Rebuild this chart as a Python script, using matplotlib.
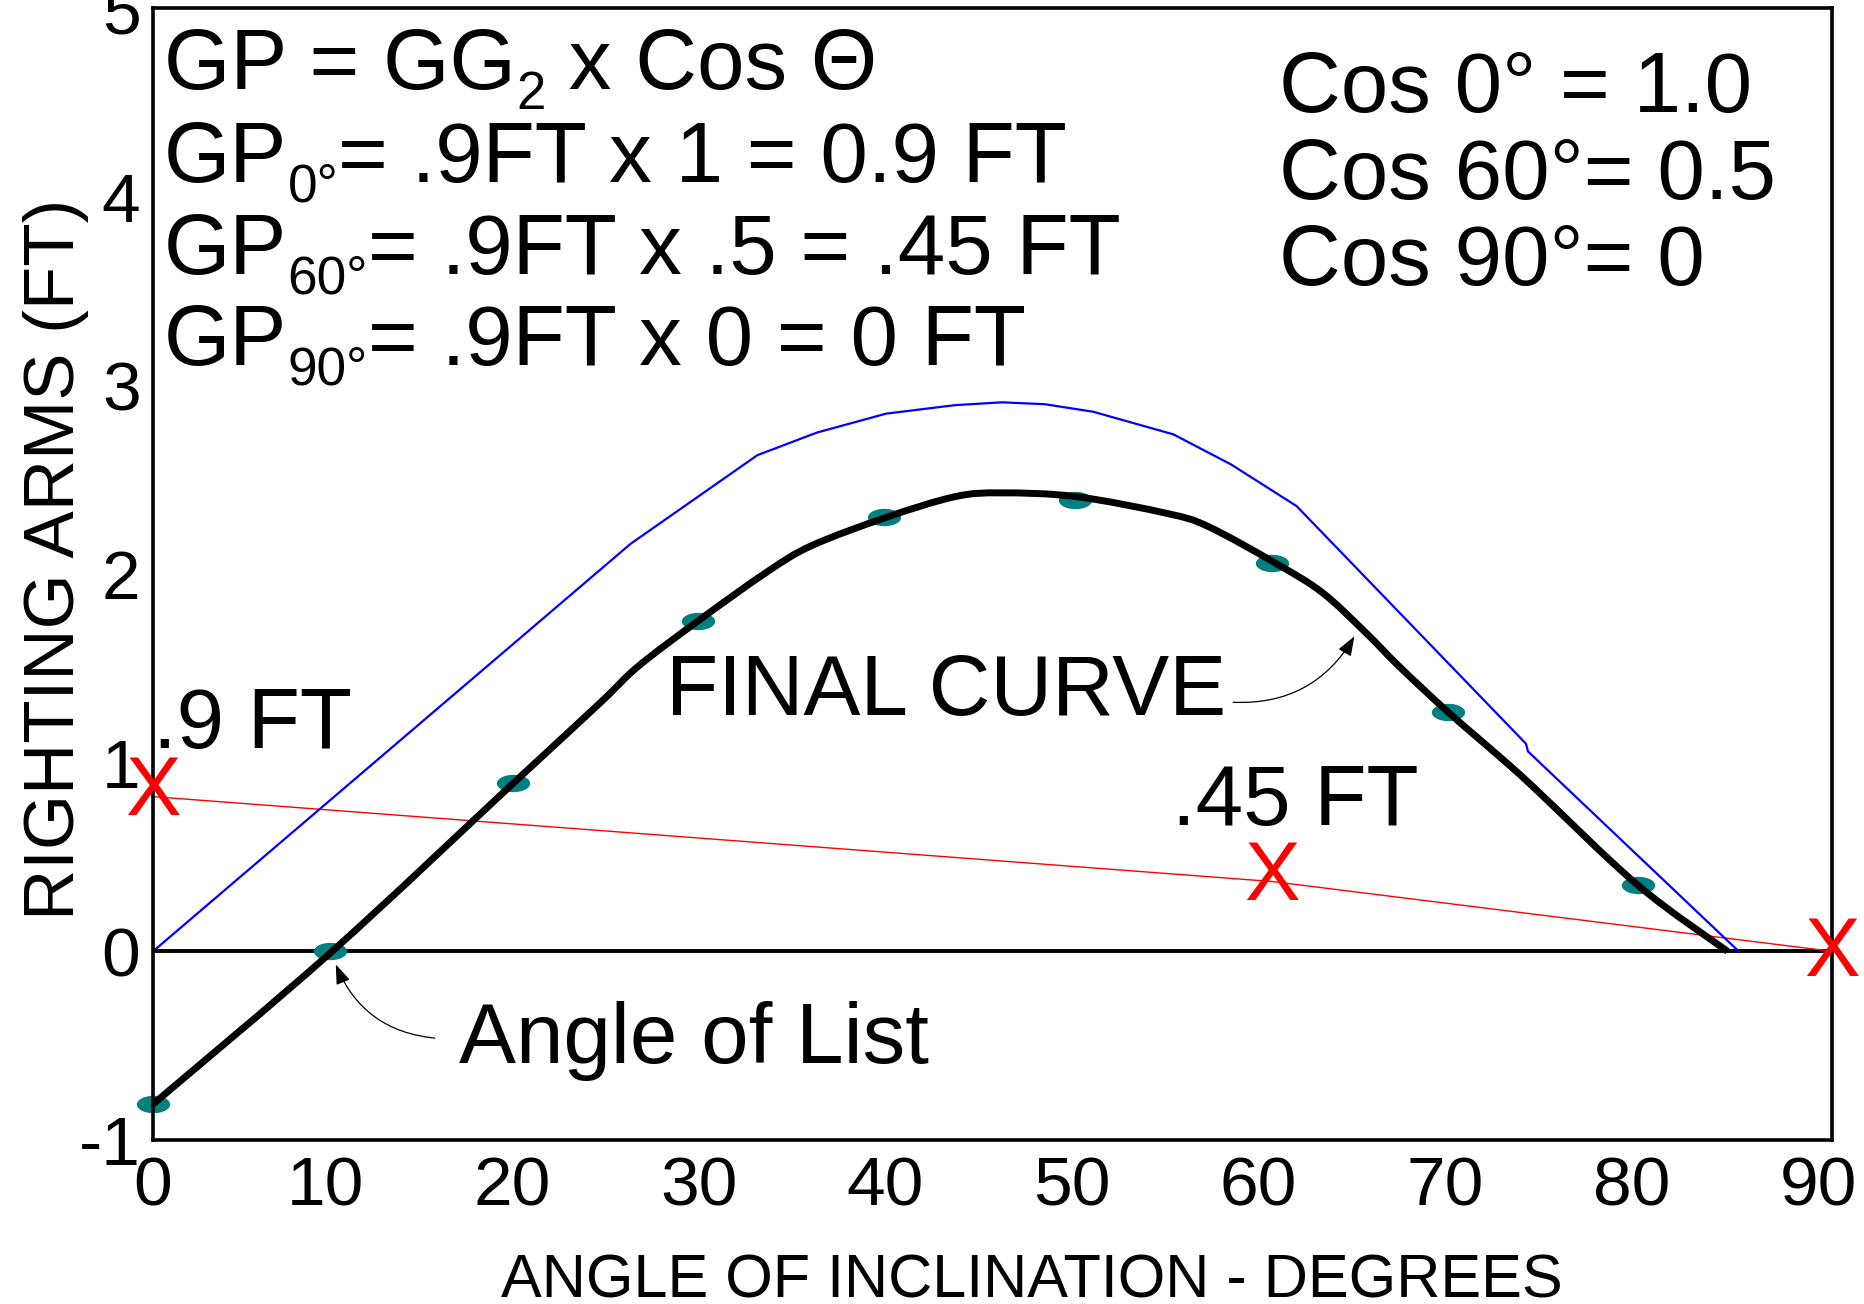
import numpy as np
import matplotlib
matplotlib.use('Agg')
import matplotlib.pyplot as plt
from matplotlib.path import Path
from matplotlib.patches import PathPatch
from matplotlib.transforms import ScaledTranslation

plt.rcParams['font.family'] = ['Liberation Sans', 'DejaVu Sans']

# ---------------- data ----------------
point_angles = [0, 9.5, 19.3, 29.2, 39.2, 49.4, 60.0, 69.4, 79.6]
point_arms = [-0.81, 0.0, 0.89, 1.75, 2.30, 2.39, 2.06, 1.27, 0.35]

final_angles = [0, 9.6, 19.3, 24.0, 26.0, 29.2, 32.9, 35.3, 39.3, 43.0, 45.5,
                49.5, 54.4, 56.6, 60.3, 62.7, 65.0, 66.8, 69.4, 72.2, 74.0,
                79.6, 84.4]
final_arms = [-0.81, 0.0, 0.89, 1.32, 1.51, 1.75, 2.01, 2.15, 2.30, 2.41, 2.43,
              2.41, 2.32, 2.25, 2.05, 1.90, 1.69, 1.51, 1.27, 1.03, 0.87,
              0.35, 0.0]

initial_angles = [0, 25.6, 32.4, 35.6, 39.3, 43.0, 45.5, 47.8, 50.4, 54.7, 57.8,
                  61.3, 73.6, 73.7, 85.0]
initial_arms = [0, 2.16, 2.63, 2.75, 2.85, 2.895, 2.91, 2.90, 2.86, 2.74, 2.58,
                2.36, 1.10, 1.06, 0.0]

gp_angles = [0, 60, 90]
gp_arms = [0.82, 0.37, 0.0]

x_mark_angles = [0, 60, 90]
x_mark_arms = [0.88, 0.43, 0.03]

x_ticks = [0, 10, 20, 30, 40, 50, 60, 70, 80, 90]
y_ticks = [-1, 0, 1, 2, 3, 4, 5]

# formula lines: (text, is_subscript) segments
formula_lines = [
    [('GP = GG', False), ('2', True), (' x Cos Θ', False)],
    [('GP', False), ('0°', True), ('= .9FT x 1 = 0.9 FT', False)],
    [('GP', False), ('60°', True), ('= .9FT x .5 = .45 FT', False)],
    [('GP', False), ('90°', True), ('= .9FT x 0 = 0 FT', False)],
]
formula_y = [4.57, 4.08, 3.59, 3.11]
cos_lines = ['Cos 0° = 1.0', 'Cos 60°= 0.5', 'Cos 90°= 0']
cos_y = [4.45, 3.99, 3.53]

# ---------------- figure ----------------
W, H = 1865, 1304
DPI = 100
fig = plt.figure(figsize=(W / DPI, H / DPI), dpi=DPI)
ax = fig.add_axes([153 / W, 1 - 1140 / H, (1832 - 153) / W, (1140 - 8) / H])
ax.set_xlim(0, 90)
ax.set_ylim(-1, 5)

for s in ax.spines.values():
    s.set_linewidth(2.6)
    s.set_color('black')

ax.axhline(0, color='black', lw=2.8, zorder=1)

ax.plot(gp_angles, gp_arms, color='#FF0000', lw=1.0, zorder=2)
ax.plot(initial_angles, initial_arms, color='#0000FF', lw=1.6, zorder=2)

theta = np.linspace(0, 2 * np.pi, 60)
ell = Path(np.column_stack([np.cos(theta), 0.52 * np.sin(theta)]), closed=True)
ax.plot(point_angles, point_arms, linestyle='none', marker=ell,
        markersize=24, color='#008080', markeredgewidth=0, zorder=2.5,
        clip_on=False)


def smooth_path(xs, ys):
    pts = np.column_stack([xs, ys]).astype(float)
    n = len(pts)
    verts = [pts[0]]
    codes = [Path.MOVETO]
    for i in range(n - 1):
        p0 = pts[i - 1] if i > 0 else pts[i]
        p1 = pts[i]
        p2 = pts[i + 1]
        p3 = pts[i + 2] if i + 2 < n else pts[i + 1]
        verts += [p1 + (p2 - p0) / 6.0, p2 - (p3 - p1) / 6.0, p2]
        codes += [Path.CURVE4] * 3
    return Path(verts, codes)


ax.add_patch(PathPatch(smooth_path(final_angles, final_arms), fill=False,
                       edgecolor='black', lw=5.0, zorder=3, joinstyle='round',
                       capstyle='butt'))

for xa, ya in zip(x_mark_angles, x_mark_arms):
    ax.annotate('X', xy=(xa, ya), xytext=(0, -0.358 * 60), textcoords='offset points',
                ha='center', va='baseline', color='#FF0000', fontsize=60,
                zorder=4, annotation_clip=False)

# ---------------- texts ----------------
renderer = fig.canvas.get_renderer()


def advance(s, size):
    t = fig.text(0, 0, '|' + s + '|', fontsize=size)
    w1 = t.get_window_extent(renderer).width
    t.set_text('||')
    w0 = t.get_window_extent(renderer).width
    t.remove()
    return w1 - w0


FS = 61.5
SUB_FS = FS * 0.62
SUB_DROP = 0.23 * FS

for segs, yy in zip(formula_lines, formula_y):
    cursor = 0.0
    for s, sub in segs:
        fs = SUB_FS if sub else FS
        dy = -SUB_DROP if sub else 0.0
        ax.annotate(s, xy=(0.6, yy), xytext=(cursor * 72.0 / DPI, dy),
                    textcoords='offset points', fontsize=fs, ha='left',
                    va='baseline', zorder=5)
        cursor += advance(s, fs)

for line, yy in zip(cos_lines, cos_y):
    ax.text(60.35, yy, line, fontsize=FS, ha='left', va='baseline', zorder=5)

ax.text(0.0, 1.08, '.9 FT', fontsize=FS, ha='left', va='baseline', zorder=5)
ax.text(54.6, 0.67, '.45 FT', fontsize=FS, ha='left', va='baseline', zorder=5)
ax.text(27.5, 1.25, 'FINAL CURVE', fontsize=FS, ha='left', va='baseline', zorder=5)
ax.text(16.4, -0.59, 'Angle of List', fontsize=FS, ha='left', va='baseline', zorder=5)

arrow_style = '-|>,head_length=0.6,head_width=0.22'
ax.annotate('', xy=(9.8, -0.07), xytext=(15.1, -0.46),
            arrowprops=dict(arrowstyle=arrow_style, connectionstyle='arc3,rad=-0.3',
                            color='black', lw=0.9, mutation_scale=20,
                            shrinkA=0, shrinkB=0), zorder=5)
ax.annotate('', xy=(64.4, 1.67), xytext=(57.9, 1.32),
            arrowprops=dict(arrowstyle=arrow_style, connectionstyle='arc3,rad=0.3',
                            color='black', lw=0.9, mutation_scale=20,
                            shrinkA=0, shrinkB=0), zorder=5)

# ---------------- ticks ----------------
ax.tick_params(axis='both', length=0, labelsize=50)
ax.tick_params(axis='x', pad=11)
ax.tick_params(axis='y', pad=9)
ax.set_xticks(x_ticks)
ax.set_yticks(y_ticks)
ax.set_xticklabels([str(v) for v in x_ticks])
ax.set_yticklabels([str(v) for v in y_ticks])
shift = ScaledTranslation(-0.14, 0, fig.dpi_scale_trans)
for tick in ax.xaxis.get_major_ticks()[1:]:
    tick.label1.set_transform(tick.label1.get_transform() + shift)

fig.text(89 / W, 1 - 559 / H, 'RIGHTING ARMS (FT)', rotation=90, ha='right',
         va='center', fontsize=51)
fig.text(0.553, 6 / H, 'ANGLE OF INCLINATION - DEGREES', ha='center',
         va='baseline', fontsize=44)

fig.savefig('out.png', dpi=DPI)
